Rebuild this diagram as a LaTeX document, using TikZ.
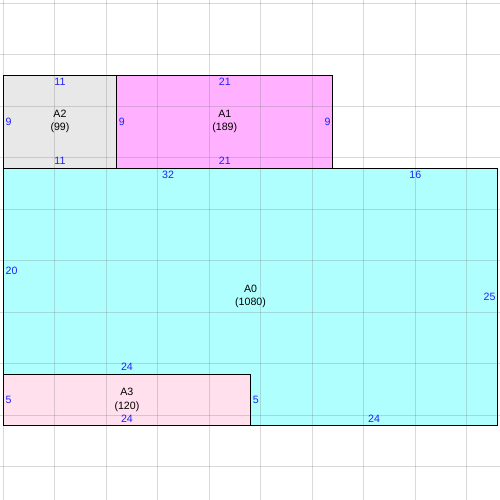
\documentclass[tikz,border=0pt]{standalone}
\usepackage{fontspec}
\setmainfont{Liberation Sans}
\definecolor{cA0}{HTML}{B0FFFF}
\definecolor{cA1}{HTML}{FFB0FF}
\definecolor{cA2}{HTML}{E8E8E8}
\definecolor{cA3}{HTML}{FFE0EC}
\definecolor{lblue}{HTML}{2020FF}
\tikzset{
  every node/.style={font=\fontsize{8.8}{10.8}\selectfont, inner sep=0pt},
  dimlabel/.style={text=lblue},
  arealabel/.style={align=center, text=black},
  outline/.style={draw=black, line width=0.9pt},
  gridline/.style={draw=gray!90!black, opacity=0.27, line width=0.8pt}
}
\begin{document}
\begin{tikzpicture}[x=0.3cm,y=-0.3cm]
\useasboundingbox (-0.32,-0.32) rectangle (48.22,48.22);
\fill[white] (-0.32,-0.32) rectangle (48.22,48.22);
% fills
\fill[cA2] (0,7) rectangle (11,16);
\fill[cA1] (11,7) rectangle (32,16);
\fill[cA0] (0,16) -- (48,16) -- (48,41) -- (24,41) -- (24,36) -- (0,36) -- cycle;
\fill[cA3] (0,36) rectangle (24,41);
% grid
\foreach \k in {0,5,...,45} {
  \draw[gridline] (\k,-0.32) -- (\k,48.22);
  \draw[gridline] (-0.32,\k) -- (48.22,\k);
}
% outlines
\draw[outline] (0,7) rectangle (11,16);
\draw[outline] (11,7) rectangle (32,16);
\draw[outline] (0,16) -- (48,16) -- (48,41) -- (24,41) -- (24,36) -- (0,36) -- cycle;
\draw[outline] (0,36) rectangle (24,41);
% A2
\node[arealabel] (a2) at (5.5,11.5) {A2\\(99)};
\node[dimlabel] (a2t) at (5.5,7.65) {11};
\node[dimlabel] (a2b) at (5.5,15.33) {11};
\node[dimlabel, anchor=west] (a2l) at (0.2,11.5) {9};
% A1
\node[arealabel] (a1) at (21.5,11.5) {A1\\(189)};
\node[dimlabel] (a1t) at (21.5,7.65) {21};
\node[dimlabel] (a1b) at (21.5,15.33) {21};
\node[dimlabel, anchor=west] (a1l) at (11.2,11.5) {9};
\node[dimlabel, anchor=east] (a1r) at (31.8,11.5) {9};
% A0
\node[arealabel] (a0) at (24,28.5) {A0\\(1080)};
\node[dimlabel] (a0t1) at (16,16.65) {32};
\node[dimlabel] (a0t2) at (40,16.65) {16};
\node[dimlabel, anchor=west] (a0l) at (0.2,26) {20};
\node[dimlabel, anchor=east] (a0r) at (47.8,28.5) {25};
\node[dimlabel] (a0b) at (36,40.33) {24};
\node[dimlabel] (a0s) at (12,35.33) {24};
\node[dimlabel, anchor=west] (a0sr) at (24.2,38.5) {5};
% A3
\node[arealabel] (a3) at (12,38.5) {A3\\(120)};
\node[dimlabel, anchor=west] (a3l) at (0.2,38.5) {5};
\node[dimlabel] (a3b) at (12,40.33) {24};
\end{tikzpicture}
\end{document}
